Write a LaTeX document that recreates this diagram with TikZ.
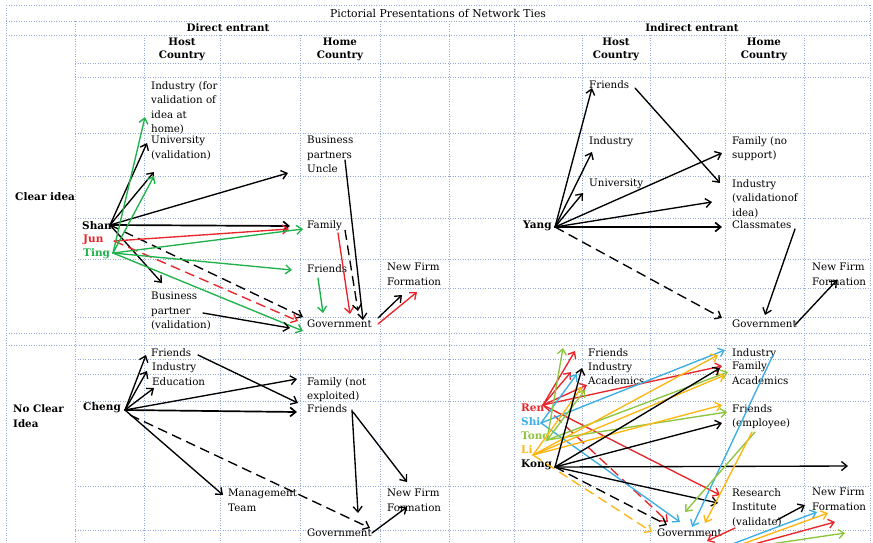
\documentclass[tikz,border=0pt]{standalone}
\usepackage{fontspec}
\setmainfont{DejaVu Serif}
\usetikzlibrary{arrows.meta}
\definecolor{gridc}{HTML}{96AAD6}
\definecolor{tred}{HTML}{E8262B}
\definecolor{tgreen}{HTML}{20B24B}
\definecolor{tblue}{HTML}{3CAEE4}
\definecolor{tlime}{HTML}{8CC63F}
\definecolor{torange}{HTML}{FDB714}

\begin{document}
\begin{tikzpicture}[x=1pt,y=-1pt,
  gridline/.style={draw=gridc, line width=0.75pt, dash pattern=on 1.2pt off 1.3pt},
  lbl/.style={anchor=north west, inner sep=0pt, align=left, font=\fontsize{10.3}{14.5}\selectfont},
  hdr/.style={inner sep=0pt, align=center, font=\bfseries\fontsize{10.3}{13}\selectfont},
  who/.style={anchor=west, inner sep=0pt, font=\bfseries\fontsize{10.5}{12}\selectfont},
  tie/.style={line width=1.35pt, line cap=round, -{Straight Barb[length=5.5pt,width=9pt]}},
  loose/.style={tie, line cap=butt, dash pattern=on 10pt off 5.5pt},
]
\clip (0,0) rectangle (873,542);
\fill[white] (0,0) rectangle (873,542);

% ---------- table grid ----------
\foreach \x in {6,870} \draw[gridline] (\x,5) -- (\x,542);
\foreach \x in {75,380,449,514} \draw[gridline] (\x,21) -- (\x,542);
\foreach \x in {144,220,300,582,650,725,804} \draw[gridline] (\x,35) -- (\x,542);
\foreach \y in {5,21,35,333,345} \draw[gridline] (6,\y) -- (870,\y);
\foreach \y in {63,77,133,176,218,259,288,317,359,374,401,486,530} \draw[gridline] (75,\y) -- (870,\y);

% ---------- headings ----------
\node[inner sep=0pt, font=\fontsize{10.8}{12}\selectfont] (title) at (438,13) {Pictorial Presentations of Network Ties};
\node[hdr] (direct) at (228,28) {Direct entrant};
\node[hdr] (indirect) at (692,28) {Indirect entrant};
\node[hdr] (hostD) at (182,49.5) {Host\\Country};
\node[hdr] (homeD) at (340,49.5) {Home\\Country};
\node[hdr] (hostI) at (616,49.5) {Host\\Country};
\node[hdr] (homeI) at (764,49.5) {Home\\Country};
\node[who] (clear) at (15,197) {Clear idea};
\node[lbl, font=\bfseries\fontsize{10.3}{15}\selectfont] (noclear) at (13,404) {No Clear\\Idea};

% ---------- entrepreneurs ----------
\node[who] (shan) at (82,226) {Shan};
\node[who, text=tred] (jun) at (83,240) {Jun};
\node[who, text=tgreen] (ting) at (83,254) {Ting};
\node[who] (cheng) at (83,408) {Cheng};
\node[who] (yang) at (523,226) {Yang};
\node[who, text=tred] (ren) at (521,408) {Ren};
\node[who, text=tblue] (shi) at (521,422) {Shi};
\node[who, text=tlime] (tong) at (521,437) {Tong};
\node[who, text=torange] (li) at (521,450) {Li};
\node[who] (kong) at (521,465) {Kong};

% ---------- direct entrant, clear idea ----------
\node[lbl] (indHostD) at (151,81) {Industry (for\\validation of\\idea at\\home)};
\node[lbl] (uniHostD) at (151,136) {University\\(validation)};
\node[lbl] (bpUncle) at (307,136) {Business\\partners\\Uncle};
\node[lbl] (famD) at (307,220) {Family};
\node[lbl] (friD) at (307,264) {Friends};
\node[lbl] (nffD) at (387,263) {New Firm\\Formation};
\node[lbl] (bpHostD) at (151,292) {Business\\partner\\(validation)};
\node[lbl] (govD) at (307,320) {Government};

% ---------- direct entrant, no clear idea ----------
\node[lbl] (friHostN) at (151,348) {Friends};
\node[lbl] (indHostN) at (152,362) {Industry};
\node[lbl] (eduHostN) at (152,377) {Education};
\node[lbl] (famNE) at (307,377) {Family (not\\exploited)};
\node[lbl] (friHomeN) at (307,404) {Friends};
\node[lbl] (mgmt) at (228,489) {Management\\Team};
\node[lbl] (nffDN) at (387,489) {New Firm\\Formation};
\node[lbl] (govDN) at (307,529) {Government};

% ---------- indirect entrant, clear idea ----------
\node[lbl] (friHostI) at (589,80) {Friends};
\node[lbl] (indHostI) at (589,136) {Industry};
\node[lbl] (uniHostI) at (589,179) {University};
\node[lbl] (famNS) at (732,136) {Family (no\\support)};
\node[lbl] (indVal) at (732,179) {Industry\\(validationof\\idea)};
\node[lbl] (classm) at (732,220) {Classmates};
\node[lbl] (nffI) at (812,263) {New Firm\\Formation};
\node[lbl] (govI) at (732,320) {Government};

% ---------- indirect entrant, no clear idea ----------
\node[lbl] (friHostIN) at (588,348) {Friends};
\node[lbl] (indHostIN) at (588,362) {Industry};
\node[lbl] (acaHostIN) at (588,376) {Academics};
\node[lbl] (indHomeIN) at (732,348) {Industry};
\node[lbl] (famHomeIN) at (732,361) {Family};
\node[lbl] (acaHomeIN) at (732,376) {Academics};
\node[lbl] (friEmp) at (732,404) {Friends\\(employee)};
\node[lbl] (research) at (732,488) {Research\\Institute\\(validate)};
\node[lbl] (nffIN) at (812,488) {New Firm\\Formation};
\node[lbl] (govIN) at (657,529) {Government};

% ---------- connector end points ----------
% direct, clear idea
\coordinate (shanO) at (110,225);
\coordinate (junO) at (114,241);
\coordinate (tingO) at (113,253);
\coordinate (dUniTip) at (147,143);
\coordinate (dRowTip) at (154,172);
\coordinate (dUncleTip) at (288,173);
\coordinate (dFamTipK) at (290,226);
\coordinate (dBpTip) at (162,283);
\coordinate (dGovTipK) at (303,317);
\coordinate (dFamTipR) at (289,229);
\coordinate (dGovTipR) at (298,321);
\coordinate (dIndTipG) at (145,117);
\coordinate (dRowTipG) at (154,176);
\coordinate (dFamTipG) at (303,229);
\coordinate (dFriTipG) at (292,270);
\coordinate (dGovTipG) at (303,331);
\coordinate (dUncleOut) at (345,160);
\coordinate (dGovInK) at (363,320);
\coordinate (dFamOutK) at (345,230);
\coordinate (dGovInD) at (358,311);
\coordinate (dFamOutR) at (338,233);
\coordinate (dGovInR) at (350,314);
\coordinate (dFriOut) at (318,278);
\coordinate (dGovInG) at (323,313);
\coordinate (dBpOut) at (203,313);
\coordinate (dGovInB) at (290,328);
\coordinate (dGovOutK) at (378,318);
\coordinate (dNffInK) at (402,295);
\coordinate (dGovOutR) at (378,324);
\coordinate (dNffInR) at (417,292);
% direct, no clear idea
\coordinate (chengO) at (125,410);
\coordinate (chengD) at (130,415);
\coordinate (cF) at (146,355);
\coordinate (cI) at (147,371);
\coordinate (cE) at (154,388);
\coordinate (cFam) at (297,379);
\coordinate (cFri) at (297,412);
\coordinate (cMgmt) at (223,495);
\coordinate (cGov) at (370,528);
\coordinate (hFriOut) at (198,355);
\coordinate (hFriIn) at (298,403);
\coordinate (fGovOut) at (352,410);
\coordinate (fGovIn) at (358,513);
\coordinate (fNffOut) at (353,412);
\coordinate (fNffIn) at (407,482);
\coordinate (gNffOut) at (372,533);
\coordinate (gNffIn) at (407,507);
% indirect, clear idea
\coordinate (yangO) at (555,227);
\coordinate (yF) at (592,88);
\coordinate (yI) at (592,152);
\coordinate (yU) at (583,193);
\coordinate (yFam) at (722,153);
\coordinate (yVal) at (712,202);
\coordinate (yCls) at (722,227);
\coordinate (yGov) at (722,318);
\coordinate (fValOut) at (635,88);
\coordinate (fValIn) at (720,183);
\coordinate (clsOut) at (795,229);
\coordinate (clsGov) at (765,315);
\coordinate (govOutI) at (795,325);
\coordinate (nffInI) at (837,280);
% indirect, no clear idea
\coordinate (renO) at (543,405);
\coordinate (shiO) at (541,423);
\coordinate (tongO) at (547,440);
\coordinate (liO) at (533,455);
\coordinate (kongO) at (555,467);
\coordinate (rF) at (575,351);
\coordinate (rI) at (571,372);
\coordinate (rA) at (587,385);
\coordinate (rFam) at (722,366);
\coordinate (rRes) at (720,495);
\coordinate (rGov) at (668,522);
\coordinate (sI) at (577,374);
\coordinate (sInd) at (725,350);
\coordinate (sGov) at (680,522);
\coordinate (gF) at (563,348);
\coordinate (gA) at (585,390);
\coordinate (gAca) at (728,372);
\coordinate (gFri) at (727,412);
\coordinate (oA) at (582,387);
\coordinate (oInd) at (718,355);
\coordinate (oAca) at (725,375);
\coordinate (oFri) at (722,405);
\coordinate (oGov) at (652,532);
\coordinate (kI) at (582,368);
\coordinate (kFam) at (720,368);
\coordinate (kFri) at (722,423);
\coordinate (kFar) at (848,466);
\coordinate (kRes) at (718,503);
\coordinate (kGov) at (667,525);
\coordinate (bIndOut) at (773,355);
\coordinate (bGovIn) at (692,527);
\coordinate (gFriOut) at (755,432);
\coordinate (gGovIn) at (685,512);
\coordinate (oFriOut) at (752,432);
\coordinate (oGovIn) at (705,523);
\coordinate (rResOut) at (735,528);
\coordinate (rGovIn) at (707,541);
\coordinate (kResOut) at (777,520);
\coordinate (kNff) at (805,505);
\coordinate (bGovOut) at (727,546);
\coordinate (bNff) at (817,512);
\coordinate (oGovOut) at (737,546);
\coordinate (oNff) at (828,513);
\coordinate (rGovOut) at (747,546);
\coordinate (rNff) at (835,522);
\coordinate (gGovOut) at (757,546);
\coordinate (gNff) at (845,533);

% ---------- ties: direct, clear idea ----------
\draw[tie] (shanO) -- (dUniTip);
\draw[tie] (shanO) -- (dRowTip);
\draw[tie] (shanO) -- (dUncleTip);
\draw[tie, line width=1.7pt] (shanO) -- (dFamTipK);
\draw[tie] (shanO) -- (dBpTip);
\draw[loose] (shanO) -- (dGovTipK);
\draw[tie, tred] (junO) -- (dFamTipR);
\draw[loose, tred] (junO) -- (dGovTipR);
\draw[tie, tgreen] (tingO) -- (dIndTipG);
\draw[tie, tgreen] (tingO) -- (dRowTipG);
\draw[tie, tgreen] (tingO) -- (dFamTipG);
\draw[tie, tgreen] (tingO) -- (dFriTipG);
\draw[tie, tgreen] (tingO) -- (dGovTipG);
\draw[tie] (dUncleOut) -- (dGovInK);
\draw[loose] (dFamOutK) -- (dGovInD);
\draw[tie, tred] (dFamOutR) -- (dGovInR);
\draw[tie, tgreen] (dFriOut) -- (dGovInG);
\draw[tie] (dBpOut) -- (dGovInB);
\draw[tie] (dGovOutK) -- (dNffInK);
\draw[tie, tred] (dGovOutR) -- (dNffInR);

% ---------- ties: direct, no clear idea ----------
\draw[tie] (chengO) -- (cF);
\draw[tie] (chengO) -- (cI);
\draw[tie] (chengO) -- (cE);
\draw[tie] (chengO) -- (cFam);
\draw[tie, line width=1.7pt] (chengO) -- (cFri);
\draw[tie] (chengO) -- (cMgmt);
\draw[loose] (chengD) -- (cGov);
\draw[tie] (hFriOut) -- (hFriIn);
\draw[tie] (fGovOut) -- (fGovIn);
\draw[tie] (fNffOut) -- (fNffIn);
\draw[tie] (gNffOut) -- (gNffIn);

% ---------- ties: indirect, clear idea ----------
\draw[tie] (yangO) -- (yF);
\draw[tie] (yangO) -- (yI);
\draw[tie] (yangO) -- (yU);
\draw[tie] (yangO) -- (yFam);
\draw[tie] (yangO) -- (yVal);
\draw[tie, line width=1.7pt] (yangO) -- (yCls);
\draw[loose] (yangO) -- (yGov);
\draw[tie] (fValOut) -- (fValIn);
\draw[tie] (clsOut) -- (clsGov);
\draw[tie] (govOutI) -- (nffInI);

% ---------- ties: indirect, no clear idea ----------
\draw[tie, tred] (renO) -- (rF);
\draw[tie, tred] (renO) -- (rI);
\draw[tie, tred] (renO) -- (rA);
\draw[tie, tred] (renO) -- (rFam);
\draw[tie, tred] (renO) -- (rRes);
\draw[loose, tred] (renO) -- (rGov);
\draw[tie, tblue] (shiO) -- (sI);
\draw[tie, tblue] (shiO) -- (sInd);
\draw[tie, tblue] (shiO) -- (sGov);
\draw[tie, tlime] (tongO) -- (gF);
\draw[tie, tlime] (tongO) -- (gA);
\draw[tie, tlime] (tongO) -- (gAca);
\draw[tie, tlime] (tongO) -- (gFri);
\draw[tie, torange] (liO) -- (oA);
\draw[tie, torange] (liO) -- (oInd);
\draw[tie, torange] (liO) -- (oAca);
\draw[tie, torange] (liO) -- (oFri);
\draw[loose, torange] (liO) -- (oGov);
\draw[tie] (kongO) -- (kI);
\draw[tie] (kongO) -- (kFam);
\draw[tie] (kongO) -- (kFri);
\draw[tie] (kongO) -- (kFar);
\draw[tie] (kongO) -- (kRes);
\draw[loose] (kongO) -- (kGov);
\draw[tie, tblue] (bIndOut) -- (bGovIn);
\draw[tie, tlime] (gFriOut) -- (gGovIn);
\draw[tie, torange] (oFriOut) -- (oGovIn);
\draw[tie, tred] (rResOut) -- (rGovIn);
\draw[tie] (kResOut) -- (kNff);
\draw[tie, tblue] (bGovOut) -- (bNff);
\draw[tie, torange] (oGovOut) -- (oNff);
\draw[tie, tred] (rGovOut) -- (rNff);
\draw[tie, tlime] (gGovOut) -- (gNff);
\end{tikzpicture}
\end{document}
